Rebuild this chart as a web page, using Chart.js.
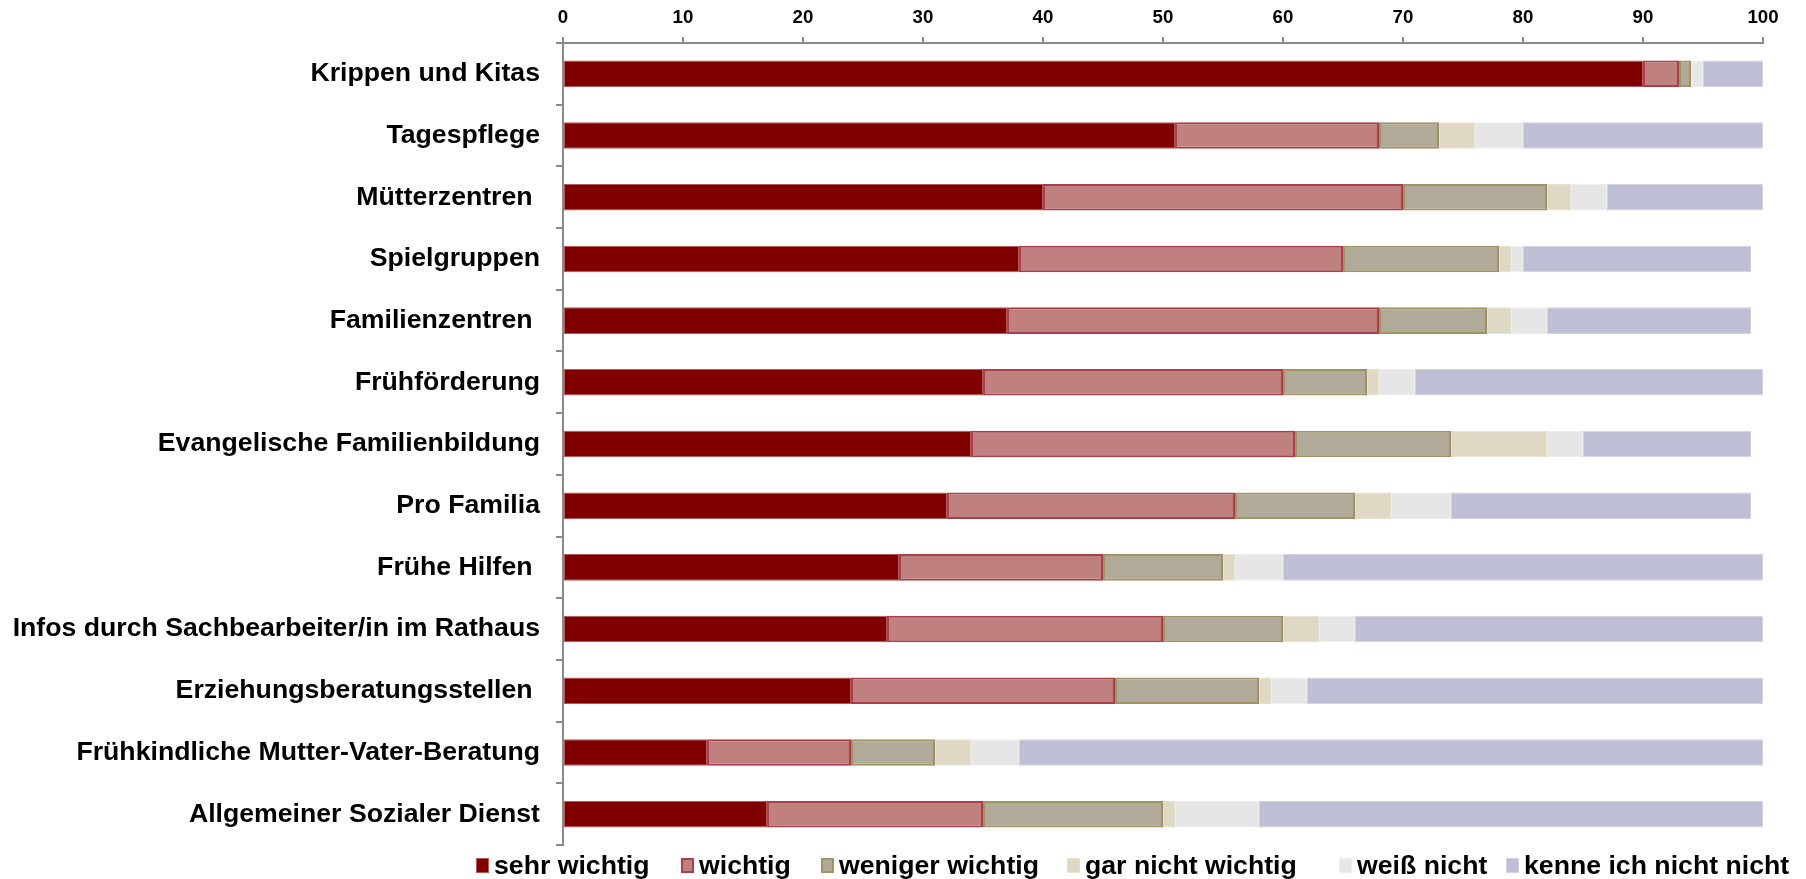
<!DOCTYPE html>
<html>
<head>
<meta charset="utf-8">
<script src="https://cdn.jsdelivr.net/npm/chart.js@4"></script>
<style>
  html, body { margin: 0; padding: 0; background: #fff; }
  #wrap { position: relative; width: 1806px; height: 879px; overflow: hidden; }
  canvas { display: block; }
  #legend { position: absolute; left: 0; top: 850px; width: 1806px; height: 30px;
    font-family: 'Liberation Sans', Arial, sans-serif; font-weight: bold; font-size: 26.67px; line-height: 30px; color: #000; white-space: nowrap; }
  .item { position: absolute; top: 0; display: flex; align-items: center; height: 30px; }
  .box { width: 13px; height: 15px; box-sizing: border-box; margin-right: 5px; flex: none; }
</style>
</head>
<body>
<div id="wrap">
  <canvas id="c" width="1806" height="879"></canvas>
  <div id="legend"></div>
</div>
<script>
const categories = ["Krippen und Kitas", "Tagespflege", "Mütterzentren ", "Spielgruppen", "Familienzentren ", "Frühförderung", "Evangelische Familienbildung", "Pro Familia", "Frühe Hilfen ", "Infos durch Sachbearbeiter/in im Rathaus", "Erziehungsberatungsstellen ", "Frühkindliche Mutter-Vater-Beratung", "Allgemeiner Sozialer Dienst"];
const seriesNames = ["sehr wichtig", "wichtig", "weniger wichtig", "gar nicht wichtig", "weiß nicht", "kenne ich nicht nicht"];
const sehrWichtig     = [90, 51, 40, 38, 37, 35, 34, 32, 28, 27, 24, 12, 17];
const wichtig         = [ 3, 17, 30, 27, 31, 25, 27, 24, 17, 23, 22, 12, 18];
const wenigerWichtig  = [ 1,  5, 12, 13,  9,  7, 13, 10, 10, 10, 12,  7, 15];
const garNichtWichtig = [ 0,  3,  2,  1,  2,  1,  8,  3,  1,  3,  1,  3,  1];
const weissNicht      = [ 1,  4,  3,  1,  3,  3,  3,  5,  4,  3,  3,  4,  7];
const kenneNicht      = [ 5, 20, 13, 19, 17, 29, 14, 25, 40, 34, 38, 62, 42];
const xTickValues = [0, 10, 20, 30, 40, 50, 60, 70, 80, 90, 100];

const fills   = ["#800000", "#C0807F", "#B1AA98", "#DED8C4", "#E6E6E6", "#BEBED4"];
const borders = ["#B05A5F", "#A8404A", "#A39266", "#E6E0CE", "#EEEEEE", "#D2D2E2"];
const bw      = [1, 2, 2, 1, 1, 1];
const legendLeft = [476, 681, 821, 1067, 1339, 1506];
const allSeries = [sehrWichtig, wichtig, wenigerWichtig, garNichtWichtig, weissNicht, kenneNicht];

const FONT = "'Liberation Sans', Arial, sans-serif";
const AXIS = "#8A8A8A";

const datasets = allSeries.map((d, i) => ({
  label: seriesNames[i],
  data: d,
  backgroundColor: fills[i],
  borderColor: borders[i],
  borderWidth: bw[i],
  borderSkipped: false,
  barPercentage: 0.43,
  categoryPercentage: 1.0
}));

new Chart(document.getElementById('c'), {
  type: 'bar',
  data: { labels: categories, datasets },
  options: {
    indexAxis: 'y',
    responsive: false,
    animation: false,
    devicePixelRatio: 1,
    layout: { padding: { top: 0, right: 43, bottom: 34, left: 0 } },
    plugins: { legend: { display: false }, tooltip: { enabled: false } },
    scales: {
      x: {
        position: 'top',
        stacked: true,
        min: 0, max: 100,
        afterBuildTicks: s => { s.ticks = xTickValues.map(v => ({ value: v })); },
        afterFit: s => { s.height = 43; },
        ticks: { color: '#000', font: { family: FONT, size: 18.67, weight: 'bold' }, padding: 8, maxRotation: 0 },
        grid: { drawOnChartArea: false, tickLength: 6, color: AXIS, lineWidth: 2 },
        border: { color: AXIS, width: 2 }
      },
      y: {
        stacked: true,
        afterFit: s => { s.width = 563; },
        ticks: { color: '#000', font: { family: FONT, size: 26.67, weight: 'bold' }, padding: 16, autoSkip: false },
        grid: { drawOnChartArea: false, tickLength: 7, color: AXIS, lineWidth: 2, offset: true },
        border: { color: AXIS, width: 2 }
      }
    }
  }
});

const legend = document.getElementById('legend');
seriesNames.forEach((name, i) => {
  const item = document.createElement('div');
  item.className = 'item';
  item.style.left = legendLeft[i] + 'px';
  const box = document.createElement('span');
  box.className = 'box';
  box.style.background = fills[i];
  box.style.border = (i === 1 || i === 2 ? 2 : 1) + 'px solid ' + borders[i];
  const t = document.createElement('span');
  t.textContent = name;
  item.appendChild(box);
  item.appendChild(t);
  legend.appendChild(item);
});
</script>
</body>
</html>
